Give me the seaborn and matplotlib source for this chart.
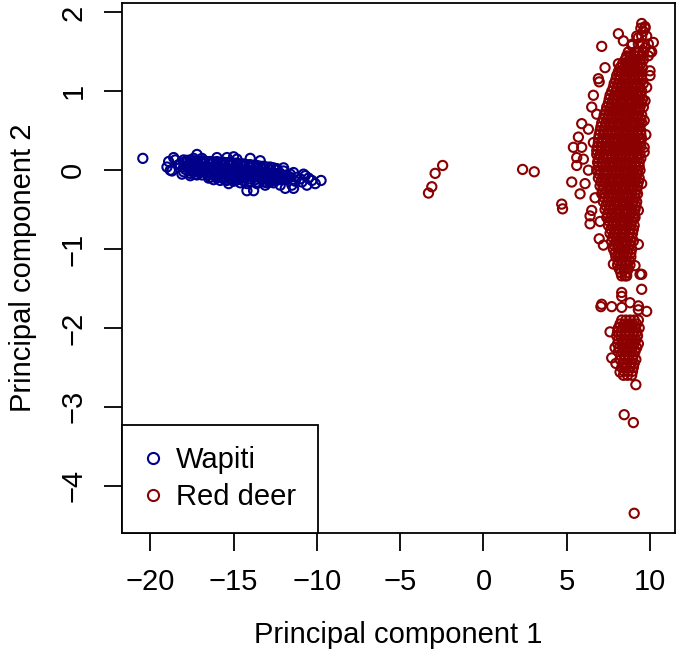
import matplotlib
matplotlib.use("Agg")
import matplotlib.pyplot as plt
from matplotlib.lines import Line2D
import seaborn as sns
import numpy as np

# ---------------- data ----------------
wapiti_x = [-20.45, -19.0, -18.8, -18.9, -18.5, -18.3, -18.6, -18.0, -17.8, -17.2, -17.2, -17.6,
            -16.9, -16.5, -15.4, -15.0, -14.2, -13.8, -13.1, -12.6, -12.2, -11.8, -11.5, -11.2,
            -10.9, -10.6, -10.8, -10.3, -9.75, -10.1, -13.4, -14.0, -16.0, -12.0, -11.4, -17.4,
            -11.9, -11.4, -15.3, -15.4, -14.8, -18.7, -18.1, -17.6, -10.7, -11.6,
            -11.0, -10.5, -11.3, -12.4, -11.6,
            # core rows
            -18.0, -17.6, -17.2, -16.8, -16.4, -16.0, -15.6, -15.2, -14.8, -14.4, -14.0, -13.6, -13.2, -12.8, -12.4,
            -18.2, -17.8, -17.4, -17.0, -16.6, -16.2, -15.8, -15.4, -15.0, -14.6, -14.2, -13.8, -13.4, -13.0, -12.6, -12.2, -11.8,
            -17.9, -17.5, -17.1, -16.7, -16.3, -15.9, -15.5, -15.1, -14.7, -14.3, -13.9, -13.5, -13.1, -12.7, -12.3, -11.9,
            -17.3, -16.9, -16.5, -16.1, -15.7, -15.3, -14.9, -14.5, -14.1, -13.7, -13.3, -12.9, -12.5,
            -15.0, -14.6, -14.2, -13.6, -13.0, -16.2, -15.8,
            -18.0, -17.6, -17.2, -16.8, -16.4, -16.0, -15.6, -15.2, -14.8, -14.4, -14.0, -13.6, -13.2, -12.8, -12.4, -12.0,
            -18.0, -17.6, -17.2, -16.8, -16.4, -16.0, -15.6, -15.2, -14.8, -14.4, -14.0, -13.6, -13.2, -12.8, -12.4, -12.0,
            -17.0, -16.6, -16.2, -15.8, -15.4, -15.0, -14.6, -14.2, -13.8, -13.4, -13.0, -12.6, -12.2,
            -17.8, -17.4, -17.0, -16.6, -16.2, -15.8, -15.4, -15.0, -14.6, -14.2, -13.8, -13.4, -13.0, -12.6,
            -17.8, -17.4, -17.0, -16.6, -16.2, -15.8, -15.4, -15.0, -14.6, -14.2, -13.8, -13.4, -13.0, -12.6, -12.2, -11.8,
            -17.6, -17.2, -16.8, -16.4, -16.0, -15.6, -15.2, -14.8, -14.4, -14.0, -13.6, -13.2, -12.8, -12.4, -12.0,
            -16.4, -16.0, -15.6, -15.2, -14.8, -14.4, -14.0, -13.6, -13.2, -12.8]
wapiti_y = [0.15, 0.04, 0.00, 0.11, 0.13, 0.07, 0.16, -0.02, 0.10, 0.20, -0.06, -0.04,
            0.15, -0.10, -0.13, 0.17, -0.26, -0.26, -0.19, -0.16, -0.19, -0.12, -0.19, -0.09,
            -0.15, -0.19, -0.05, -0.13, -0.13, -0.17, 0.12, 0.15, 0.16, 0.03, -0.03, 0.15,
            -0.23, -0.23, -0.17, 0.16, 0.14, -0.01, -0.05, -0.07, -0.07, -0.09,
            -0.11, -0.10, -0.14, -0.12, -0.05,
            0.13, 0.13, 0.12, 0.12, 0.11, 0.11, 0.10, 0.10, 0.09, 0.08, 0.07, 0.06, 0.05, 0.04, 0.02,
            0.07, 0.06, 0.06, 0.05, 0.05, 0.04, 0.04, 0.03, 0.02, 0.02, 0.01, 0.00, -0.01, -0.02, -0.03, -0.04, -0.06,
            0.01, 0.00, 0.00, -0.01, -0.01, -0.02, -0.03, -0.03, -0.04, -0.05, -0.05, -0.06, -0.07, -0.08, -0.09, -0.10,
            -0.05, -0.06, -0.06, -0.07, -0.08, -0.08, -0.09, -0.10, -0.11, -0.12, -0.12, -0.13, -0.13,
            -0.14, -0.16, -0.17, -0.17, -0.16, -0.12, -0.13,
            0.10, 0.095, 0.09, 0.085, 0.08, 0.075, 0.07, 0.065, 0.055, 0.05, 0.04, 0.03, 0.02, 0.01, 0.00, -0.01,
            0.04, 0.035, 0.03, 0.025, 0.02, 0.015, 0.01, 0.005, -0.005, -0.015, -0.025, -0.035, -0.045, -0.055, -0.065, -0.08,
            -0.03, -0.035, -0.04, -0.05, -0.055, -0.065, -0.075, -0.08, -0.09, -0.095, -0.105, -0.11, -0.12,
            0.125, 0.12, 0.115, 0.11, 0.105, 0.10, 0.095, 0.09, 0.08, 0.07, 0.06, 0.05, 0.04, 0.03,
            0.055, 0.05, 0.045, 0.04, 0.035, 0.03, 0.02, 0.015, 0.005, -0.005, -0.015, -0.025, -0.035, -0.045, -0.055, -0.07,
            -0.01, -0.015, -0.02, -0.03, -0.035, -0.045, -0.05, -0.06, -0.07, -0.075, -0.085, -0.09, -0.10, -0.105, -0.115,
            -0.09, -0.10, -0.11, -0.115, -0.125, -0.135, -0.14, -0.15, -0.15, -0.15]

# red deer: dense main cluster, one row of x values per y level
red_core_row_y = [1.8, 1.7, 1.6, 1.5, 1.4, 1.3, 1.2, 1.1, 1.0, 0.9, 0.8, 0.7, 0.6, 0.5, 0.4, 0.3,
                  0.2, 0.1, 0.0, -0.1, -0.2, -0.3, -0.4, -0.5, -0.6, -0.7, -0.8, -0.9, -1.0,
                  -1.1, -1.2, -1.3]
red_core_row_x = [
    [9.45, 9.7],
    [9.2, 9.5, 9.8],
    [8.95, 9.3, 9.55, 9.9],
    [8.7, 9.1, 9.35, 9.6, 10.0],
    [8.5, 8.75, 8.95, 9.2, 9.4, 9.6],
    [8.2, 8.45, 8.65, 8.9, 9.1, 9.3, 9.55],
    [8.0, 8.2, 8.45, 8.65, 8.85, 9.1, 9.3, 9.5],
    [7.85, 8.1, 8.3, 8.55, 8.75, 8.95, 9.2, 9.4, 9.6],
    [7.7, 7.95, 8.2, 8.4, 8.6, 8.85, 9.05, 9.3, 9.5],
    [7.55, 7.8, 8.0, 8.25, 8.45, 8.7, 8.9, 9.1, 9.35, 9.55],
    [7.4, 7.65, 7.9, 8.1, 8.3, 8.55, 8.75, 8.95, 9.2, 9.4, 9.6],
    [7.25, 7.5, 7.7, 7.95, 8.15, 8.4, 8.6, 8.8, 9.05, 9.25, 9.5],
    [7.1, 7.35, 7.6, 7.8, 8.05, 8.25, 8.5, 8.7, 8.9, 9.15, 9.35, 9.5],
    [7.0, 7.2, 7.45, 7.7, 7.9, 8.15, 8.35, 8.55, 8.8, 9.0, 9.25, 9.45],
    [6.9, 7.15, 7.35, 7.6, 7.8, 8.05, 8.25, 8.45, 8.7, 8.9, 9.1, 9.35, 9.5],
    [6.85, 7.05, 7.3, 7.5, 7.75, 7.95, 8.15, 8.4, 8.6, 8.85, 9.05, 9.25, 9.45],
    [6.8, 7.0, 7.2, 7.45, 7.65, 7.9, 8.1, 8.3, 8.55, 8.75, 9.0, 9.2, 9.4],
    [6.85, 7.1, 7.35, 7.55, 7.8, 8.0, 8.2, 8.45, 8.65, 8.9, 9.1, 9.35],
    [6.8, 7.0, 7.25, 7.45, 7.7, 7.9, 8.15, 8.35, 8.6, 8.8, 9.0, 9.25, 9.4],
    [6.9, 7.15, 7.35, 7.6, 7.8, 8.05, 8.25, 8.5, 8.7, 8.9, 9.15, 9.35],
    [7.0, 7.2, 7.45, 7.65, 7.9, 8.1, 8.35, 8.55, 8.8, 9.0, 9.25],
    [7.1, 7.3, 7.55, 7.75, 8.0, 8.2, 8.45, 8.65, 8.9, 9.1, 9.25],
    [7.2, 7.45, 7.65, 7.9, 8.1, 8.35, 8.55, 8.75, 9.0, 9.2],
    [7.3, 7.55, 7.75, 8.0, 8.2, 8.45, 8.65, 8.9, 9.1],
    [7.4, 7.65, 7.85, 8.1, 8.3, 8.55, 8.75, 9.0, 9.1],
    [7.5, 7.75, 7.95, 8.2, 8.4, 8.65, 8.85, 9.05],
    [7.6, 7.85, 8.05, 8.3, 8.5, 8.75, 8.95],
    [7.7, 7.95, 8.15, 8.4, 8.6, 8.85, 9.0],
    [7.8, 8.05, 8.25, 8.5, 8.7, 8.9],
    [7.95, 8.2, 8.4, 8.6, 8.85],
    [8.05, 8.3, 8.55, 8.8],
    [8.25, 8.6],
]
# red deer: in-between rows of the main cluster
red_mid_row_y = [1.45, 1.35, 1.25, 1.15, 1.05, 0.95, 0.85, 0.75, 0.65, 0.55, 0.45, 0.35, 0.25,
                 0.15, 0.05, -0.05, -0.15, -0.25, -0.35, -0.45, -0.55, -0.65, -0.75, -0.85,
                 -0.95, -1.05, -1.15, -1.25]
red_mid_row_x = [
    [8.6, 8.85, 9.1, 9.3, 9.5],
    [8.35, 8.6, 8.8, 9.0, 9.25, 9.45],
    [8.1, 8.3, 8.55, 8.75, 9.0, 9.2, 9.4],
    [7.95, 8.15, 8.4, 8.6, 8.85, 9.05, 9.3, 9.5],
    [7.8, 8.0, 8.25, 8.5, 8.7, 8.95, 9.15, 9.4],
    [7.6, 7.85, 8.1, 8.3, 8.55, 8.75, 9.0, 9.2, 9.45],
    [7.5, 7.7, 7.95, 8.2, 8.4, 8.65, 8.85, 9.1, 9.3, 9.5],
    [7.35, 7.55, 7.8, 8.05, 8.25, 8.5, 8.7, 8.9, 9.15, 9.35],
    [7.2, 7.45, 7.7, 7.9, 8.15, 8.35, 8.6, 8.8, 9.0, 9.25, 9.45],
    [7.05, 7.3, 7.55, 7.75, 8.0, 8.2, 8.45, 8.65, 8.9, 9.1, 9.35],
    [6.95, 7.25, 7.5, 7.7, 7.95, 8.15, 8.4, 8.6, 8.8, 9.05, 9.25, 9.45],
    [6.9, 7.15, 7.4, 7.6, 7.85, 8.05, 8.3, 8.5, 8.75, 8.95, 9.15, 9.4],
    [6.8, 7.1, 7.35, 7.55, 7.8, 8.0, 8.25, 8.45, 8.65, 8.9, 9.1, 9.3],
    [6.9, 7.2, 7.45, 7.7, 7.9, 8.1, 8.35, 8.55, 8.8, 9.0, 9.25, 9.45],
    [6.9, 7.15, 7.35, 7.6, 7.8, 8.05, 8.25, 8.5, 8.7, 8.9, 9.15, 9.35],
    [6.95, 7.25, 7.5, 7.7, 7.95, 8.15, 8.4, 8.6, 8.8, 9.05, 9.25],
    [7.05, 7.3, 7.55, 7.75, 8.0, 8.2, 8.45, 8.65, 8.9, 9.1, 9.3],
    [7.15, 7.4, 7.6, 7.85, 8.05, 8.3, 8.5, 8.75, 8.95, 9.2],
    [7.25, 7.5, 7.75, 7.95, 8.2, 8.4, 8.65, 8.85, 9.1],
    [7.35, 7.6, 7.85, 8.05, 8.3, 8.5, 8.75, 8.95, 9.15],
    [7.45, 7.7, 7.95, 8.15, 8.4, 8.6, 8.85, 9.05],
    [7.55, 7.8, 8.0, 8.25, 8.45, 8.7, 8.9],
    [7.65, 7.9, 8.1, 8.35, 8.55, 8.8, 9.0],
    [7.75, 8.0, 8.25, 8.45, 8.7, 8.9],
    [7.85, 8.1, 8.35, 8.55, 8.8],
    [7.9, 8.15, 8.4, 8.65, 8.85],
    [8.1, 8.3, 8.5, 8.75],
    [8.15, 8.45, 8.7],
]

# red deer: dense lower cluster
red_low_row_y = [-1.9, -1.95, -2.0, -2.05, -2.1, -2.15, -2.2, -2.25, -2.3, -2.35, -2.4, -2.45,
                 -2.5, -2.55, -2.6]
red_low_row_x = [
    [8.3, 8.55, 8.8, 9.05, 9.3],
    [8.2, 8.45, 8.7, 8.95, 9.2],
    [8.1, 8.35, 8.6, 8.85, 9.1, 9.35],
    [8.05, 8.25, 8.5, 8.75, 9.0, 9.2],
    [8.0, 8.25, 8.5, 8.75, 9.0, 9.25],
    [8.1, 8.4, 8.65, 8.9, 9.15],
    [8.05, 8.3, 8.55, 8.8, 9.05, 9.3],
    [8.15, 8.45, 8.7, 8.95, 9.2],
    [8.1, 8.35, 8.6, 8.85, 9.1],
    [8.25, 8.5, 8.75, 9.0],
    [8.2, 8.45, 8.7, 8.95, 9.15],
    [8.35, 8.6, 8.85, 9.05],
    [8.3, 8.55, 8.8, 9.0],
    [8.45, 8.7, 8.95],
    [8.4, 8.65, 8.9],
]

# red deer: scattered points
red_out_x = [-2.45, -2.9, -3.1, -3.3, 2.35, 3.05,
             9.5, 9.7, 9.6, 8.1, 7.1, 10.2, 8.4, 8.9, 9.7, 9.3, 6.9, 6.95, 10.0, 10.0, 8.1, 8.6, 9.9, 10.1,
             5.9, 6.3, 5.7, 5.4, 5.9, 5.6, 5.3, 5.8, 4.7, 4.75, 6.3, 6.1, 6.5, 6.4, 6.95, 6.8, 6.0, 5.6,
             6.4, 6.6, 6.5, 6.7, 7.0, 7.2, 6.6, 7.3,
             9.7, 9.65, 9.65, 9.5, 9.3, 9.3, 9.65, 9.8, 9.75,
             7.8, 8.3, 8.6, 9.1, 9.5, 8.1, 8.5, 9.4,
             9.5, 8.3, 8.3, 7.1, 7.05, 7.7, 8.3, 8.8, 9.3, 9.3, 9.8,
             7.6, 7.9, 7.7, 7.95, 8.2, 9.15, 8.45, 9.0, 9.05]
red_out_y = [0.06, -0.04, -0.21, -0.29, 0.01, -0.02,
             1.86, 1.82, 1.76, 1.73, 1.57, 1.62, 1.64, 1.58, 1.55, 1.68, 1.16, 1.12, 1.26, 1.20, 1.35, 1.43, 1.45, 1.50,
             0.59, 0.52, 0.42, 0.29, 0.29, 0.16, -0.15, -0.30, -0.43, -0.49, 0.00, -0.17, -0.51, -0.68, -0.87, 0.71, 0.14, 0.06,
             -0.58, 0.35, 0.80, -0.35, -0.65, -0.95, 0.95, 1.30,
             0.88, 0.63, 0.29, -0.17, -0.51, -0.94, 0.23, 1.05, 0.45,
             -1.19, -1.34, -1.34, -1.21, -1.32, -1.10, -1.34, -1.32,
             -1.51, -1.55, -1.60, -1.70, -1.73, -1.73, -1.74, -1.68, -1.72, -1.77, -1.79,
             -2.05, -2.25, -2.38, -2.45, -2.56, -2.72, -3.10, -3.20, -4.35]

species = ["Wapiti", "Red deer"]
colors = ["#00008B", "#8B0000"]

# ---------------- assemble ----------------
red_x, red_y = [], []
rows = (list(zip(red_core_row_y, red_core_row_x)) + list(zip(red_mid_row_y, red_mid_row_x))
        + list(zip(red_low_row_y, red_low_row_x)))
for yv, xs in rows:
    red_x += xs
    red_y += [yv] * len(xs)
red_x += red_out_x
red_y += red_out_y

# ---------------- plot ----------------
sns.set_style("white")
plt.rcParams["font.family"] = ["Liberation Sans", "DejaVu Sans"]
plt.rcParams["text.color"] = "black"
plt.rcParams["axes.labelcolor"] = "black"
plt.rcParams["xtick.color"] = "black"
plt.rcParams["ytick.color"] = "black"
FS = 21

fig = plt.figure(figsize=(6.81, 6.61), dpi=100)
ax = fig.add_axes([122 / 681, 1 - 533 / 661, (675 - 122) / 681, (533 - 3) / 661])

kw = dict(s=44, facecolor="none", linewidth=1.5, ax=ax, legend=False)
sns.scatterplot(x=wapiti_x, y=wapiti_y, color=colors[0], edgecolor=colors[0], **kw)
sns.scatterplot(x=red_x, y=red_y, color=colors[1], edgecolor=colors[1], **kw)

ax.set_xlim(-21.7, 11.5)
ax.set_ylim(-4.6, 2.12)
ax.set_xticks([-20, -15, -10, -5, 0, 5, 10])
ax.set_yticks([-4, -3, -2, -1, 0, 1, 2])

for sp in ax.spines.values():
    sp.set_color("black")
    sp.set_linewidth(1.3)

ax.tick_params(axis="both", which="major", direction="out", length=13, width=1.3,
               color="black", labelsize=FS, labelcolor="black", bottom=True, left=True)
ax.tick_params(axis="x", pad=12)
ax.tick_params(axis="y", pad=12)
for lab in ax.get_yticklabels():
    lab.set_rotation(90)
    lab.set_va("center")
    lab.set_ha("right")

ax.set_xlabel("Principal component 1", fontsize=FS, labelpad=18, color="black")
ax.set_ylabel("Principal component 2", fontsize=FS, labelpad=16, color="black")

handles = [Line2D([], [], ls="", marker="o", markersize=8, markerfacecolor="none",
                  markeredgecolor=c, markeredgewidth=1.5) for c in colors]
leg = ax.legend(handles, species, loc="lower left", bbox_to_anchor=(0, 0),
                borderaxespad=0, fontsize=FS, frameon=True, fancybox=False,
                framealpha=1, edgecolor="black", borderpad=0.75, handlelength=0.6,
                handletextpad=0.5, labelspacing=0.3)
leg.get_frame().set_linewidth(1.3)
for t in leg.get_texts():
    t.set_color("black")

fig.savefig("out.png", dpi=100)
